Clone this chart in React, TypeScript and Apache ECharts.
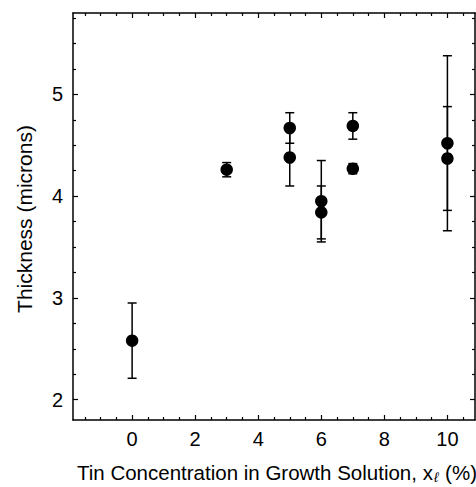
import React, { useEffect, useRef } from "react";
import * as echarts from "echarts";

// Data
const concentration = [0, 3, 5, 5, 6, 6, 7, 7, 10, 10];
const thickness = [2.58, 4.26, 4.67, 4.38, 3.95, 3.84, 4.69, 4.27, 4.52, 4.37];
const thicknessError = [0.37, 0.07, 0.15, 0.28, 0.4, 0.26, 0.13, 0.05, 0.86, 0.51];

const xMajorTicks = [0, 2, 4, 6, 8, 10];
const xMinorTicks = [-1.5, -1, -0.5, 0.5, 1, 1.5, 2.5, 3, 3.5, 4.5, 5, 5.5, 6.5, 7, 7.5, 8.5, 9, 9.5, 10.5];
const yMajorTicks = [2, 3, 4, 5];
const yMinorTicks = [2.25, 2.5, 2.75, 3.25, 3.5, 3.75, 4.25, 4.5, 4.75, 5.25, 5.5, 5.75];

const X_MIN = -1.875;
const X_MAX = 10.875;
const Y_MIN = 1.8;
const Y_MAX = 5.8;

const FONT = "'Liberation Sans', Arial, Helvetica, sans-serif";

export default function App() {
  const ref = useRef<HTMLDivElement>(null);

  useEffect(() => {
    if (!ref.current) return;
    const chart = echarts.init(ref.current, null, { renderer: "svg" });

    const points = concentration.map((x, i) => [x, thickness[i]]);
    const errData = concentration.map((x, i) => [x, thickness[i], thicknessError[i]]);

    const lineStyle = { color: "#000", width: 1.5 };
    const mkX = (pos: "top" | "bottom", major: boolean) => ({
      type: "value",
      min: X_MIN,
      max: X_MAX,
      position: pos,
      axisLine: { show: major, onZero: false, lineStyle },
      axisTick: {
        show: true,
        inside: true,
        length: major ? 5 : 3,
        customValues: major ? xMajorTicks : xMinorTicks,
        lineStyle: { color: "#000", width: 1.2 },
      },
      axisLabel:
        major && pos === "bottom"
          ? {
              show: true,
              customValues: xMajorTicks,
              margin: 9,
              fontSize: 20,
              color: "#000",
              fontFamily: FONT,
            }
          : { show: false },
      splitLine: { show: false },
    });
    const mkY = (pos: "left" | "right", major: boolean) => ({
      type: "value",
      min: Y_MIN,
      max: Y_MAX,
      position: pos,
      axisLine: { show: major, onZero: false, lineStyle },
      axisTick: {
        show: true,
        inside: true,
        length: major ? 5 : 3,
        customValues: major ? yMajorTicks : yMinorTicks,
        lineStyle: { color: "#000", width: 1.2 },
      },
      axisLabel:
        major && pos === "left"
          ? {
              show: true,
              customValues: yMajorTicks,
              margin: 10,
              fontSize: 20,
              color: "#000",
              fontFamily: FONT,
            }
          : { show: false },
      splitLine: { show: false },
    });

    chart.setOption({
      animation: false,
      backgroundColor: "#fff",
      grid: {
        left: 73,
        right: 1,
        top: 13,
        bottom: 67,
        containLabel: false,
        outerBoundsMode: "none",
      },
      xAxis: [mkX("bottom", true), mkX("bottom", false), mkX("top", true), mkX("top", false)],
      yAxis: [mkY("left", true), mkY("left", false), mkY("right", true), mkY("right", false)],
      graphic: [
        {
          type: "text",
          left: 77,
          top: 462,
          style: {
            text: "Tin Concentration in Growth Solution, x{sub|ℓ} (%)",
            fontSize: 20.5,
            fontFamily: FONT,
            fill: "#000",
            rich: {
              sub: {
                fontSize: 14,
                fontStyle: "italic",
                fontFamily: FONT,
                fill: "#000",
                padding: [9, 1, 0, 1],
              },
            },
          },
        },
        {
          type: "text",
          x: 24,
          y: 219,
          rotation: Math.PI / 2,
          style: {
            text: "Thickness (microns)",
            fontSize: 21,
            fontFamily: FONT,
            fill: "#000",
            align: "center",
            verticalAlign: "middle",
          },
        },
      ],
      series: [
        {
          type: "custom",
          xAxisIndex: 0,
          yAxisIndex: 0,
          data: errData,
          z: 1,
          renderItem: (params: any, api: any) => {
            const x = api.value(0);
            const y = api.value(1);
            const e = api.value(2);
            const top = api.coord([x, y + e]);
            const bot = api.coord([x, y - e]);
            const hw = 4.5;
            const st = { stroke: "#000", lineWidth: 1.5 };
            return {
              type: "group",
              children: [
                { type: "line", shape: { x1: top[0], y1: top[1], x2: bot[0], y2: bot[1] }, style: st },
                { type: "line", shape: { x1: top[0] - hw, y1: top[1], x2: top[0] + hw, y2: top[1] }, style: st },
                { type: "line", shape: { x1: bot[0] - hw, y1: bot[1], x2: bot[0] + hw, y2: bot[1] }, style: st },
              ],
            };
          },
        },
        {
          type: "scatter",
          xAxisIndex: 0,
          yAxisIndex: 0,
          data: points,
          symbol: "circle",
          symbolSize: 12.5,
          itemStyle: { color: "#000", opacity: 1 },
          z: 2,
        },
      ],
    });

    return () => chart.dispose();
  }, []);

  return (
    <div
      ref={ref}
      style={{ position: "fixed", left: 0, top: 0, width: 476, height: 487, background: "#fff" }}
    />
  );
}
